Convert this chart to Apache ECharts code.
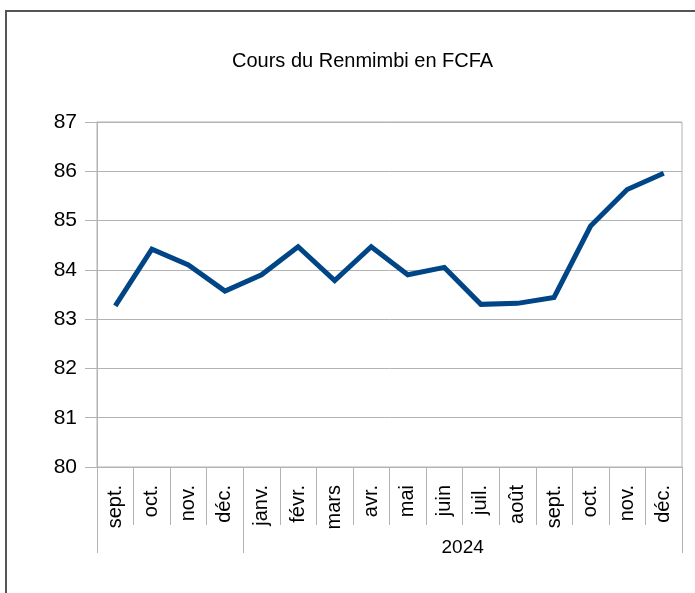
<!DOCTYPE html>
<html>
<head>
<meta charset="utf-8">
<script src="https://cdn.jsdelivr.net/npm/echarts@6/dist/echarts.min.js"></script>
<style>
  html, body { margin: 0; padding: 0; background: #fff; }
  #chart { position: absolute; left: 0; top: 0; width: 695px; height: 593px; }
  .frame {
    position: absolute; left: 5px; top: 10px; width: 700px; height: 600px;
    border-left: 2px solid #555; border-top: 2px solid #555; pointer-events: none;
  }
</style>
</head>
<body>
<div id="chart"></div>
<div class="frame"></div>
<script>
// mois (sept. 2023 -> déc. 2024)
const months = ['sept.', 'oct.', 'nov.', 'déc.', 'janv.', 'févr.', 'mars', 'avr.',
  'mai', 'juin', 'juil.', 'août', 'sept.', 'oct.', 'nov.', 'déc.'];
// groupes d'années, 4 mois chacun
const yearGroups = ['', '', '2024', ''];
const rates = [83.27, 84.42, 84.1, 83.57, 83.9, 84.47, 83.78, 84.47,
  83.9, 84.05, 83.3, 83.32, 83.44, 84.89, 85.63, 85.96];
const yTicks = { min: 80, max: 87, interval: 1 };

const chart = echarts.init(document.getElementById('chart'));

const gridColor = '#b3b3b3';
const font = '"Liberation Sans", Arial, sans-serif';

chart.setOption({
  animation: false,
  title: {
    text: 'Cours du Renmimbi en FCFA',
    left: 227,
    top: 46,
    textStyle: { fontFamily: font, fontSize: 20, fontWeight: 'normal', color: '#000' },
  },
  grid: {
    left: 97,
    right: 13,
    top: 122,
    bottom: 126,
    show: true,
    borderColor: gridColor,
    borderWidth: 1,
  },
  xAxis: [
    {
      type: 'category',
      data: months,
      position: 'bottom',
      axisLine: { lineStyle: { color: gridColor } },
      axisTick: { show: true, interval: 0, length: 58, lineStyle: { color: gridColor } },
      axisLabel: {
        interval: 0,
        rotate: 90,
        margin: 18,
        fontFamily: font,
        fontSize: 20,
        color: '#000',
      },
    },
    {
      type: 'category',
      data: yearGroups,
      position: 'bottom',
      axisLine: { show: false },
      axisTick: {
        show: true,
        length: 86,
        interval: (i) => i <= 1,
        lineStyle: { color: gridColor },
      },
      axisLabel: {
        interval: 0,
        margin: 71,
        fontFamily: font,
        fontSize: 19,
        color: '#000',
      },
    },
  ],
  yAxis: {
    type: 'value',
    min: yTicks.min,
    max: yTicks.max,
    interval: yTicks.interval,
    axisLine: { show: true, lineStyle: { color: gridColor } },
    axisTick: { show: true, length: 12, lineStyle: { color: gridColor } },
    axisLabel: { fontFamily: font, fontSize: 21, color: '#000', margin: 20 },
    splitLine: { lineStyle: { color: gridColor } },
  },
  series: [
    {
      type: 'line',
      data: rates,
      xAxisIndex: 0,
      symbol: 'none',
      lineStyle: { color: '#004586', width: 5, join: 'miter' },
    },
  ],
});
</script>
</body>
</html>
